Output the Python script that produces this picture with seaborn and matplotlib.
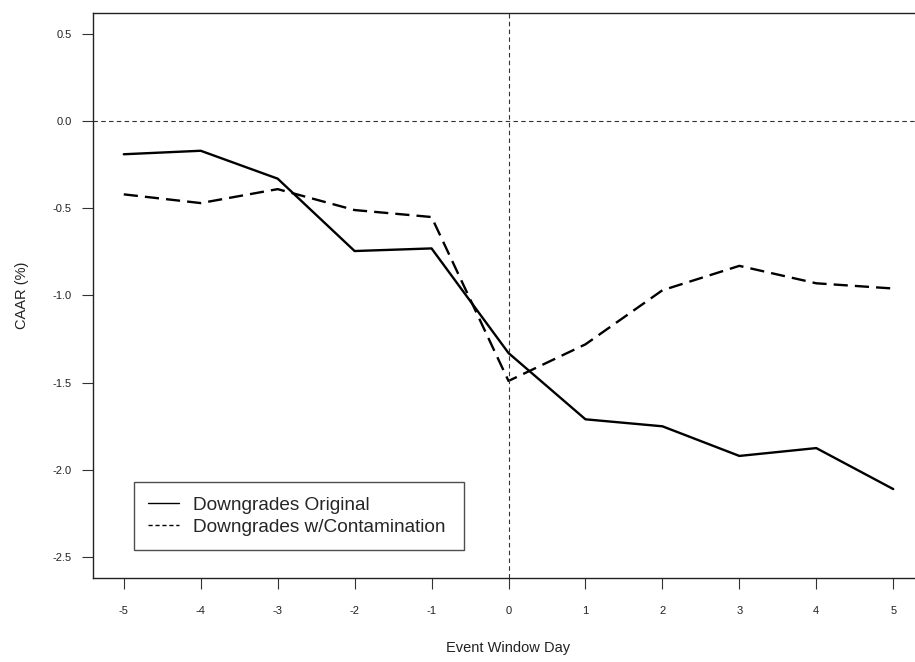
import matplotlib
matplotlib.use("Agg")
import matplotlib.pyplot as plt
from matplotlib.lines import Line2D
import seaborn as sns
import pandas as pd

# Event window days and cumulative average abnormal returns (%)
days = [-5, -4, -3, -2, -1, 0, 1, 2, 3, 4, 5]
caar_original = [-0.19, -0.17, -0.33, -0.745, -0.73, -1.33, -1.71, -1.75, -1.92, -1.875, -2.11]
caar_contaminated = [-0.42, -0.47, -0.39, -0.51, -0.55, -1.49, -1.28, -0.97, -0.83, -0.93, -0.96]
series_names = ["Downgrades Original", "Downgrades w/Contamination"]
y_ticks = [0.5, 0.0, -0.5, -1.0, -1.5, -2.0, -2.5]

df = pd.DataFrame({
    "day": days * 2,
    "caar": caar_original + caar_contaminated,
    "series": [series_names[0]] * len(days) + [series_names[1]] * len(days),
})

sns.set_style("white")
plt.rcParams["font.family"] = ["Liberation Sans", "DejaVu Sans"]

fig = plt.figure(figsize=(9.15, 6.62), dpi=100)
ax = fig.add_axes([93 / 915, 1 - 578 / 662, 831 / 915, 565 / 662])

sns.lineplot(
    data=df, x="day", y="caar", style="series", style_order=series_names,
    dashes={series_names[0]: "", series_names[1]: (6, 3)},
    color="black", linewidth=1.7, ax=ax, legend=False,
)

# reference lines at the event day and zero return
ax.axvline(0, color="#333333", linewidth=0.8, dashes=(4, 3))
ax.axhline(0, color="#333333", linewidth=0.8, dashes=(4, 3))

ax.set_xlim(-5.4, 5.4)
ax.set_ylim(-2.62, 0.62)
ax.set_xticks(days)
ax.set_xticklabels([str(d) for d in days])
ax.set_yticks(y_ticks)
ax.set_yticklabels([f"{v:.1f}" for v in y_ticks])

ax.tick_params(axis="both", bottom=True, left=True, direction="out", length=8,
               width=0.8, color="#333333", labelcolor="#222222")
ax.tick_params(axis="x", labelsize=8, pad=12)
ax.tick_params(axis="y", labelsize=8, pad=7.5)
ax.set_xlabel("Event Window Day", fontsize=10.5, color="#222222", labelpad=18)
ax.set_ylabel("CAAR (%)", fontsize=10.5, color="#222222", labelpad=17)

for s in ax.spines.values():
    s.set_visible(True)
    s.set_color("#222222")
    s.set_linewidth(1.0)

handles = [
    Line2D([], [], color="black", linewidth=1.0),
    Line2D([], [], color="black", linewidth=1.0, dashes=(3, 2)),
]
leg = ax.legend(
    handles, series_names, loc="lower left",
    bbox_to_anchor=(41 / 831, 28 / 565, 330 / 831, 69 / 565), mode="expand",
    borderaxespad=0, fontsize=13.7, frameon=True, fancybox=False,
    handlelength=1.6, handletextpad=0.75, borderpad=0.75, labelspacing=0.25,
)
leg.get_frame().set_edgecolor("#222222")
leg.get_frame().set_linewidth(1.0)

fig.savefig("out.png", dpi=100)
